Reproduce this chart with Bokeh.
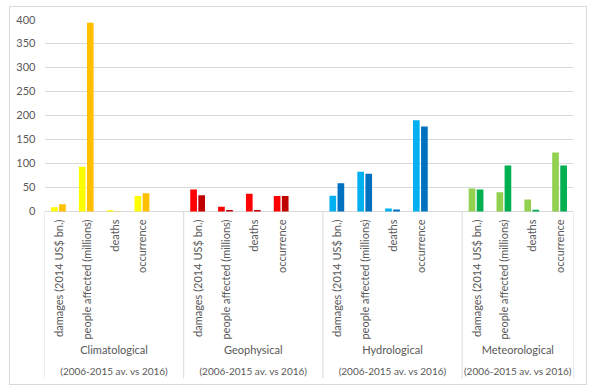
import math
from bokeh.plotting import figure
from bokeh.models import ColumnDataSource, FactorRange, Range1d, FixedTicker
from bokeh.transform import dodge
from bokeh.core.properties import value
from bokeh.embed import file_html
from bokeh.resources import INLINE

groups = ["Climatological", "Geophysical", "Hydrological", "Meteorological"]
categories = ["damages (2014 US$ bn.)", "people affected (millions)", "deaths", "occurrence"]
period_label = "(2006-2015 av. vs 2016)"

avg_2006_2015 = {
    "Climatological": [9, 93, 2.7, 32.5],
    "Geophysical": [46, 9.6, 37, 32],
    "Hydrological": [33, 83, 6, 190],
    "Meteorological": [48, 40, 25, 123],
}
year_2016 = {
    "Climatological": [15, 393, 0.3, 38],
    "Geophysical": [34, 3, 3, 32],
    "Hydrological": [59, 78.5, 4, 177],
    "Meteorological": [46, 96, 3.5, 96],
}
colors_avg = {"Climatological": "#FFFF00", "Geophysical": "#FF0000",
              "Hydrological": "#00B0F0", "Meteorological": "#92D050"}
colors_2016 = {"Climatological": "#FFC000", "Geophysical": "#C00000",
               "Hydrological": "#0070C0", "Meteorological": "#00B050"}
y_ticks = [0, 50, 100, 150, 200, 250, 300, 350, 400]

FONT = "Lato"
TXT = "#595959"
GRID = "#d9d9d9"

factors = []
for i, g in enumerate(groups):
    for c in categories:
        factors.append((g, c))
    if i < len(groups) - 1:
        factors.append((g, " "))

x_range = FactorRange(*factors, range_padding=0, group_padding=0, factor_padding=0,
                      subgroup_padding=0)
y_range = Range1d(-348, 400)

p = figure(width=578, height=379, x_range=x_range, y_range=y_range,
           output_backend="svg", toolbar_location=None, x_axis_location=None,
           min_border_left=34, min_border_right=15, min_border_top=12,
           min_border_bottom=8, outline_line_color=None)
p.styles = {"margin-left": "9px", "margin-top": "6px",
            "border": "1px solid #d9d9d9"}

xs, v1, v2, c1, c2 = [], [], [], [], []
for g in groups:
    for c, a, b in zip(categories, avg_2006_2015[g], year_2016[g]):
        xs.append((g, c))
        v1.append(a)
        v2.append(b)
        c1.append(colors_avg[g])
        c2.append(colors_2016[g])
src = ColumnDataSource(dict(x=xs, v1=v1, v2=v2, c1=c1, c2=c2,
                            label=[x[1] for x in xs]))

p.vbar(x=dodge("x", -0.145, range=p.x_range), top="v1", width=0.24, bottom=0,
       fill_color="c1", line_color=None, source=src)
p.vbar(x=dodge("x", 0.145, range=p.x_range), top="v2", width=0.24, bottom=0,
       fill_color="c2", line_color=None, source=src)

p.text(x="x", y=0, text="label", angle=math.pi / 2, source=src,
       text_align="right", text_baseline="middle", y_offset=8,
       text_font=value(FONT), text_font_size="11px", text_color=TXT)

gsrc = ColumnDataSource(dict(x=groups, name=groups, period=[period_label] * len(groups)))
p.text(x="x", y=0, text="name", source=gsrc, text_align="center",
       text_baseline="middle", y_offset=138, text_font=value(FONT),
       text_font_size="11px", text_color=TXT)
p.text(x="x", y=0, text="period", source=gsrc, text_align="center",
       text_baseline="middle", y_offset=160, text_font=value(FONT),
       text_font_size="10px", text_color=TXT)

sep_x = [(g, categories[0]) for g in groups]
sep_src = ColumnDataSource(dict(x=sep_x))
p.segment(x0=dodge("x", -0.5, range=p.x_range), x1=dodge("x", -0.5, range=p.x_range),
          y0=0, y1=y_range.start, line_color=GRID, line_width=1, source=sep_src)
end_src = ColumnDataSource(dict(x=[(groups[-1], categories[-1])]))
p.segment(x0=dodge("x", 0.5, range=p.x_range), x1=dodge("x", 0.5, range=p.x_range),
          y0=0, y1=y_range.start, line_color=GRID, line_width=1, source=end_src)

p.yaxis.ticker = FixedTicker(ticks=y_ticks)
p.yaxis.axis_line_color = None
p.yaxis.major_tick_line_color = None
p.yaxis.minor_tick_line_color = None
p.yaxis.major_tick_out = 0
p.yaxis.major_label_standoff = 9
p.yaxis.major_label_text_font = FONT
p.yaxis.major_label_text_font_size = "11px"
p.yaxis.major_label_text_color = TXT

p.ygrid.grid_line_color = GRID
p.ygrid.grid_line_width = 1
p.xgrid.grid_line_color = None

open("out.html", "w").write(file_html(p, INLINE))
